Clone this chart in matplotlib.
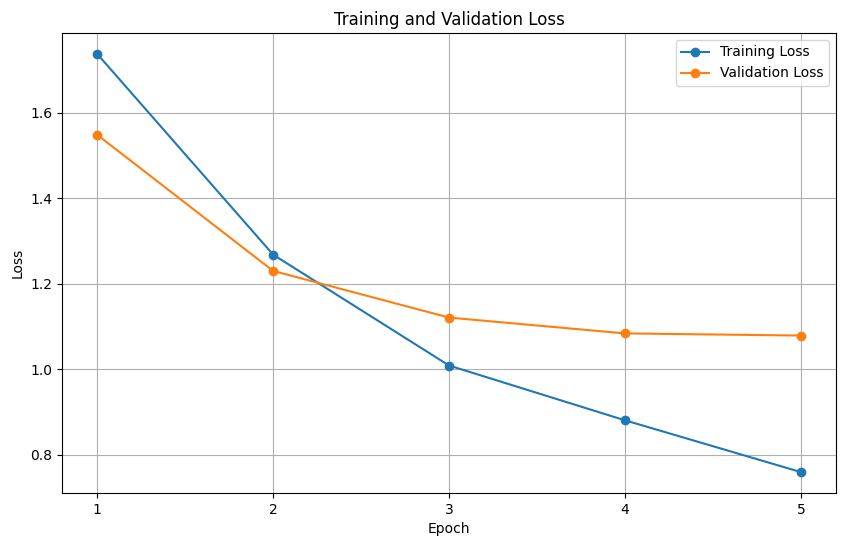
import matplotlib.pyplot as plt

# values
epochs = [1, 2, 3, 4, 5]
train_loss = [1.737, 1.268, 1.009, 0.881, 0.760]
val_loss = [1.548, 1.230, 1.121, 1.084, 1.079]

fig = plt.figure(figsize=(8.46, 5.47), dpi=100)
ax = fig.add_axes([0.0733, 0.0987, 0.915, 0.841])

ax.plot(epochs, train_loss, marker='o', label='Training Loss')
ax.plot(epochs, val_loss, marker='o', label='Validation Loss')

ax.set_title('Training and Validation Loss')
ax.set_xlabel('Epoch')
ax.set_ylabel('Loss')
ax.set_xticks(epochs)
ax.legend()
ax.grid(True)

fig.savefig('out.png', dpi=100)
